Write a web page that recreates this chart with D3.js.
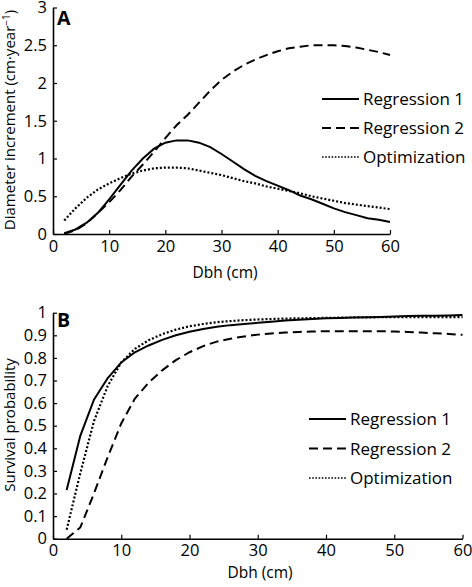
<!DOCTYPE html>
<html>
<head>
<meta charset="utf-8">
<script src="https://cdn.jsdelivr.net/npm/d3@7"></script>
<style>
  html, body { margin: 0; padding: 0; background: #fff; }
  svg { display: block; }
  text { font-family: "Open Sans", Lato, sans-serif; fill: #000; }
</style>
</head>
<body>
<svg id="chart" width="472" height="587"></svg>
<script>
// ---- Data ----
const dbh = [2,4,6,8,10,12,14,16,18,20,22,24,26,28,30,32,34,36,38,40,42,44,46,48,50,52,54,56,58,60];

// Panel A: diameter increment (cm·year^-1)
const incReg1 = [0.01,0.06,0.15,0.28,0.46,0.65,0.84,1.00,1.13,1.21,1.24,1.24,1.21,1.15,1.06,0.96,0.86,0.77,0.70,0.64,0.58,0.51,0.46,0.40,0.34,0.29,0.25,0.21,0.19,0.16];
const incReg2 = [0.00,0.05,0.14,0.28,0.42,0.58,0.76,0.92,1.09,1.27,1.44,1.58,1.74,1.90,2.04,2.15,2.24,2.31,2.37,2.42,2.46,2.48,2.50,2.50,2.50,2.49,2.47,2.44,2.41,2.37];
const incOpt  = [0.18,0.34,0.48,0.59,0.67,0.74,0.80,0.84,0.87,0.88,0.88,0.87,0.84,0.81,0.78,0.74,0.70,0.67,0.63,0.60,0.57,0.54,0.50,0.47,0.44,0.41,0.39,0.37,0.35,0.33];

// Panel B: survival probability
const survReg1 = [0.215,0.455,0.615,0.71,0.78,0.825,0.855,0.88,0.90,0.916,0.928,0.938,0.945,0.950,0.955,0.960,0.965,0.969,0.972,0.975,0.977,0.979,0.980,0.981,0.983,0.985,0.986,0.987,0.988,0.99];
const survReg2 = [0.00,0.05,0.20,0.36,0.51,0.62,0.69,0.745,0.79,0.825,0.852,0.872,0.885,0.895,0.903,0.908,0.912,0.915,0.917,0.918,0.918,0.918,0.918,0.918,0.917,0.915,0.912,0.909,0.906,0.902];
const survOpt  = [0.04,0.29,0.52,0.675,0.78,0.84,0.878,0.905,0.925,0.94,0.950,0.958,0.963,0.967,0.970,0.972,0.974,0.975,0.976,0.977,0.978,0.979,0.979,0.980,0.980,0.980,0.980,0.980,0.980,0.980];

const seriesNames = ["Regression 1", "Regression 2", "Optimization"];
const xTicks = [0,10,20,30,40,50,60];
const yTicksA = [0,0.5,1,1.5,2,2.5,3];
const yTicksB = [0,0.1,0.2,0.3,0.4,0.5,0.6,0.7,0.8,0.9,1];

// ---- Styles ----
const dashes = ["none", "9,5", "2,2"];
const svg = d3.select("#chart");

function panel(cfg) {
  const g = svg.append("g");
  const x = d3.scaleLinear().domain([0,60]).range(cfg.xr);
  const y = d3.scaleLinear().domain(cfg.yd).range(cfg.yr);

  const xAxis = d3.axisBottom(x).tickValues(xTicks).tickSizeInner(-4).tickSizeOuter(0).tickPadding(6).tickFormat(d3.format("d"));
  const yAxis = d3.axisLeft(y).tickValues(cfg.yt).tickSizeInner(-4).tickSizeOuter(0).tickPadding(6).tickFormat(d => String(+d.toFixed(2)));

  const gx = g.append("g").attr("transform", `translate(0,${cfg.yr[0]})`).call(xAxis);
  const gy = g.append("g").attr("transform", `translate(${cfg.xr[0]},0)`).call(yAxis);
  [gx, gy].forEach(a => {
    a.selectAll("path.domain").attr("stroke", "#000").attr("stroke-width", 1.6);
    a.selectAll(".tick line").attr("stroke", "#000").attr("stroke-width", 1.2);
    a.selectAll(".tick text").attr("font-family", "'Open Sans', sans-serif").attr("font-size", 16.5).attr("fill", "#000");
  });

  const line = d3.line().x((d,i) => x(dbh[i])).y(d => y(d));
  cfg.series.forEach((s, k) => {
    g.append("path").datum(s).attr("d", line)
      .attr("fill", "none").attr("stroke", "#000")
      .attr("stroke-width", k === 2 ? 2.2 : 2)
      .attr("stroke-dasharray", dashes[k]);
  });

  // legend
  seriesNames.forEach((n, k) => {
    const ly = cfg.leg[1] + k * cfg.legStep;
    g.append("line").attr("x1", cfg.leg[0]).attr("x2", cfg.leg[0] + 37)
      .attr("y1", ly).attr("y2", ly).attr("stroke", "#000")
      .attr("stroke-width", k === 2 ? 1.6 : 2).attr("stroke-dasharray", k === 2 ? "1.6,1.6" : dashes[k]);
    g.append("text").attr("x", cfg.leg[0] + 41).attr("y", ly + 6)
      .attr("font-size", 17).text(n);
  });

  // panel letter
  g.append("text").attr("x", cfg.xr[0] + 4).attr("y", cfg.letterY)
    .attr("font-family", "'Liberation Sans', Arial, sans-serif").attr("font-weight", "bold")
    .attr("font-size", 19.5).text(cfg.letter);

  // x title
  g.append("text").attr("x", cfg.xTitle[0]).attr("y", cfg.xTitle[1])
    .attr("text-anchor", "middle").attr("font-size", 15.5).text("Dbh (cm)");

  // y title
  const yt = g.append("text").attr("transform", `translate(${cfg.yTitle[0]},${cfg.yTitle[1]}) rotate(-90)`)
    .attr("text-anchor", "middle").attr("font-size", 15);
  cfg.yLabel(yt);
}

panel({
  xr: [53, 390], yd: [0,3], yr: [234, 7.5], yt: yTicksA,
  series: [incReg1, incReg2, incOpt],
  leg: [322, 99], legStep: 29,
  letter: "A", letterY: 25,
  xTitle: [225, 278],
  yTitle: [15, 120],
  yLabel: t => {
    t.append("tspan").text("Diameter increment (cm·year");
    t.append("tspan").attr("dy", -5).attr("font-size", 10).text("−1");
    t.append("tspan").attr("dy", 5).text(")");
  }
});

panel({
  xr: [53, 462.5], yd: [0,1], yr: [538.7, 312.7], yt: yTicksB,
  series: [survReg1, survReg2, survOpt],
  leg: [309, 419], legStep: 29.5,
  letter: "B", letterY: 327,
  xTitle: [260, 578],
  yTitle: [15, 425],
  yLabel: t => t.text("Survival probability")
});
</script>
</body>
</html>
